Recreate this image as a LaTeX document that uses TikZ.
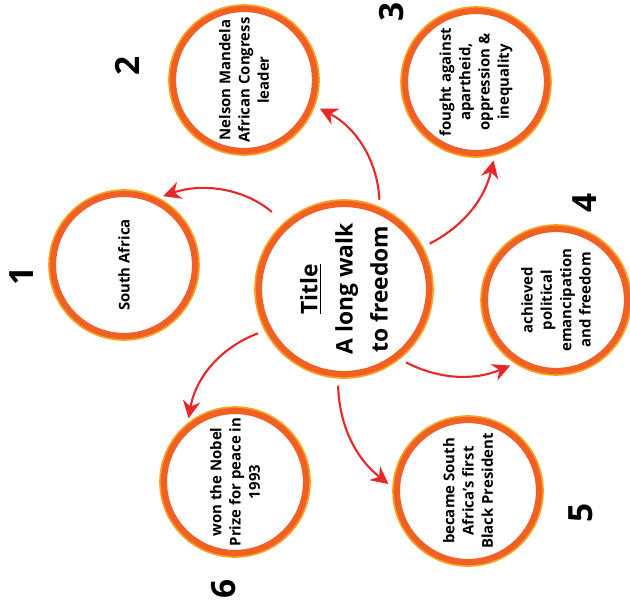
\documentclass[tikz,border=0pt]{standalone}
\usepackage{fontspec}
\setmainfont{Open Sans}
\usetikzlibrary{arrows.meta}
\definecolor{ringdark}{RGB}{240,95,35}
\definecolor{ringlight}{RGB}{248,160,30}
\definecolor{arrowred}{RGB}{232,40,40}
\begin{document}
\begin{tikzpicture}[x=0.02cm,y=-0.02cm]

    \tikzset{nodestyle/.style={draw=ringdark,shape=circle,line width=3.5pt,
        preaction={draw=ringlight,line width=5.5pt},fill=white,
        minimum size=2.84cm,inner sep=0pt,align=center,rotate=90,
        font=\bfseries\fontsize{8.5}{11}\selectfont}}
    \tikzset{numstyle/.style={rotate=90,font=\bfseries\fontsize{19}{19}\selectfont}}
    \tikzset{arrowstyle/.style={draw=arrowred,line width=1.2pt,
        -{Stealth[length=10pt,width=10pt]},shorten <=5pt,shorten >=4pt}}

    \useasboundingbox (0,0) rectangle (630,609);

    \node[nodestyle,minimum size=3.4cm,font=\bfseries\fontsize{13}{20}\selectfont] (c0) at (344,289)
        {\underline{Title}\\A long walk\\to freedom};

    \node[nodestyle] (c1) at (124,265) {South Africa};
    \node[nodestyle] (c2) at (244,80) {Nelson Mandela\\African Congress\\leader};
    \node[nodestyle] (c3) at (476,82) {fought against\\apartheid,\\oppression \&\\inequality};
    \node[nodestyle] (c4) at (556,300) {achieved\\political\\emancipation\\and freedom};
    \node[nodestyle] (c5) at (468,491) {became South\\Africa's first\\Black President};
    \node[nodestyle] (c6) at (235,482) {won the Nobel\\Prize for peace in\\1993};

    \node[numstyle] (n1) at (22,276) {1};
    \node[numstyle] (n2) at (127,66) {2};
    \node[numstyle] (n3) at (392,12) {3};
    \node[numstyle] (n4) at (585,203) {4};
    \node[numstyle] (n5) at (581,513) {5};
    \node[numstyle] (n6) at (224,589) {6};

    % anchors are turned by the rotate=90
    \draw[arrowstyle,shorten <=10pt] (c0.42) to[bend right=30] (c1.334);
    \draw[arrowstyle] (c0.336) to[bend right=30] (c2.250);
    \draw[arrowstyle] (c0.298) to[bend right=25] (c3.195);
    \draw[arrowstyle] (c0.218) to[bend right=25] (c4.148);
    \draw[arrowstyle] (c0.176) to[bend right=25] (c5.88);
    \draw[arrowstyle] (c0.118) to[bend right=30] (c6.40);

\end{tikzpicture}
\end{document}
